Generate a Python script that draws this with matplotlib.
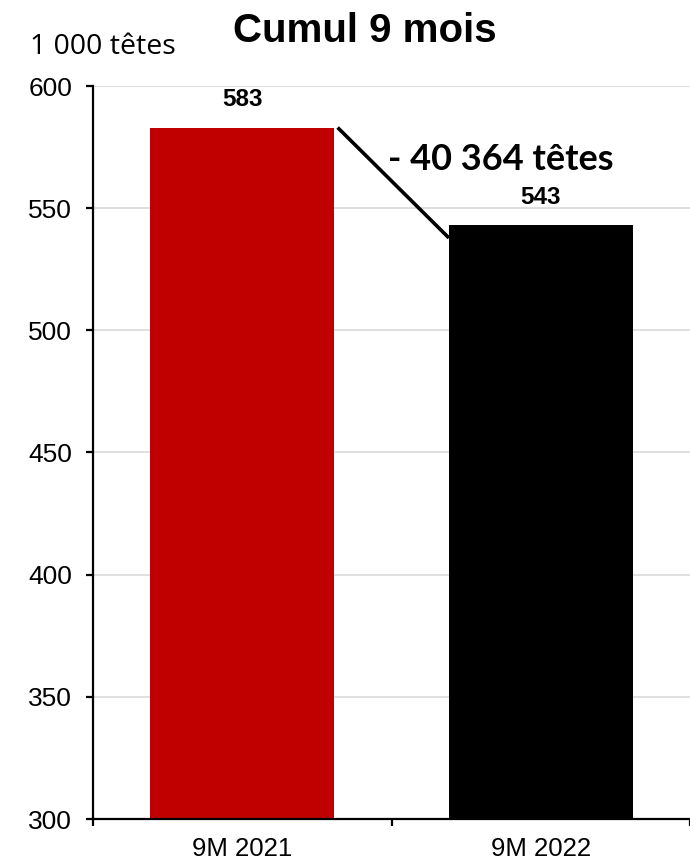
# Cumul 9 mois : abattages (1 000 têtes), 9M 2021 vs 9M 2022
import matplotlib
matplotlib.use("Agg")
import matplotlib.pyplot as plt

# Data
categories = ["9M 2021", "9M 2022"]
values = [583, 543]
bar_colors = ["#C00000", "#000000"]
y_ticks = [300, 350, 400, 450, 500, 550, 600]
diff_label = "- 40 364 têtes"

fig = plt.figure(figsize=(6.9, 8.63), dpi=100)
ax = fig.add_axes([93 / 690, 44 / 863, 1 - 93 / 690, (819 - 86) / 863])

x = list(range(len(categories)))
bar_w = 0.615
ax.bar(x, values, width=bar_w, color=bar_colors, zorder=2)

# Axis limits / grid
ax.set_ylim(300, 600)
ax.set_xlim(-0.5, 1.475)
ax.set_yticks(y_ticks)
ax.yaxis.grid(True, color="#D9D9D9", linewidth=1.2, zorder=0)
ax.set_axisbelow(True)

for side in ["top", "right"]:
    ax.spines[side].set_visible(False)
for side in ["left", "bottom"]:
    ax.spines[side].set_linewidth(1.6)
    ax.spines[side].set_color("black")

ax.tick_params(axis="y", direction="out", length=5, width=1.6, pad=10,
               labelsize=19, labelfontfamily="Liberation Sans")
# Major ticks between categories, labels on minor ticks at category centers
ax.set_xticks([-0.5, 0.5, 1.5])
ax.set_xticklabels(["", "", ""])
ax.tick_params(axis="x", which="major", direction="out", length=5, width=1.6)
ax.set_xticks(x, minor=True)
ax.set_xticklabels(categories, minor=True, fontsize=18.5, fontfamily="Liberation Sans")
ax.tick_params(axis="x", which="minor", length=0, pad=13)

# Data labels
for xi, v in zip(x, values):
    ax.annotate(str(v), (xi, v), xytext=(0, 12), textcoords="offset points",
                ha="center", va="bottom", fontsize=17.5, fontweight="bold",
                fontfamily="Liberation Sans")

# Connecting line between bars
ax.plot([bar_w / 2 + 0.012, 1 - bar_w / 2], [values[0], values[1] - 5.2],
        color="black", linewidth=2.6, solid_capstyle="butt", zorder=3, clip_on=False)
fig.text(388 / 690, 1 - 160 / 863, diff_label, ha="left", va="center",
         fontsize=26, fontweight="bold", fontfamily="Lato")

# Titles
fig.text(365 / 690, 1 - 42 / 863, "Cumul 9 mois", ha="center", va="baseline",
         fontsize=29, fontweight="bold", fontfamily="Liberation Sans")
fig.text(30 / 690, 1 - 54 / 863, "1 000 têtes", ha="left", va="baseline",
         fontsize=20.5, fontfamily="Open Sans")

fig.savefig("out.png", dpi=100)
